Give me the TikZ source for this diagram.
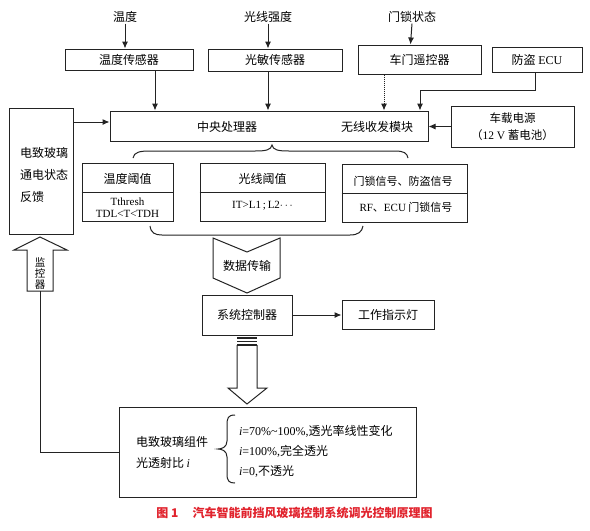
\documentclass[tikz,border=0pt]{standalone}
\usepackage{fontspec}
\setmainfont{Liberation Serif}
\newfontfamily\cjk{Noto Sans CJK SC}
\usetikzlibrary{arrows.meta,calc}
\newcommand\lat[1]{{\rmfamily #1}}
\definecolor{capred}{RGB}{225,35,45}
\definecolor{ln}{RGB}{35,35,35}
\begin{document}
\begin{tikzpicture}[x=1pt,y=-1pt,line width=1pt,
  box/.style={draw=ln,line width=1pt,inner sep=0pt,font=\cjk\fontsize{12}{14}\selectfont},
  lbl/.style={inner sep=0.5pt,font=\cjk\fontsize{12}{14}\selectfont},
  sml/.style={inner sep=0.5pt,font=\cjk\fontsize{11}{13}\selectfont},
  arr/.style={draw=ln,line width=1pt,-{Latex[length=7pt,width=6pt]}},
  ln/.style={draw=ln,line width=1pt}]
\useasboundingbox (0,0) rectangle (590,531);
\fill[white] (0,0) rectangle (590,531);
% inputs
\node[lbl] (tin) at (125,17) {温度};
\node[lbl] (lin) at (268,17) {光线强度};
\node[lbl] (din) at (412,17) {门锁状态};
% sensors
\node[box,minimum width=128,minimum height=21] (ts) at (129,59.5) {温度传感器};
\node[box,minimum width=134,minimum height=22] (ls) at (275,60) {光敏传感器};
\node[box,minimum width=123,minimum height=29] (dr) at (419.5,59.5) {车门遥控器};
\node[box,minimum width=90,minimum height=25] (ecu) at (537,59.5) {防盗 \lat{ECU}};
% central
\node[box,minimum width=318,minimum height=30] (cpu) at (269,126) {};
\node[lbl] (cpuA) at (227,127) {中央处理器};
\node[lbl] (cpuB) at (377,127) {无线收发模块};
\node[box,minimum width=123,minimum height=41,align=center,font=\cjk\fontsize{11.5}{17}\selectfont] (pwr) at (512.5,126.5) {车载电源\\（\lat{12 V} 蓄电池）};
% feedback
\node[box,minimum width=64,minimum height=126] (fb) at (41,171) {};
\node[lbl,anchor=west,align=left,font=\cjk\fontsize{12}{22}\selectfont] (fbt) at (19,175) {电致玻璃\\通电状态\\反馈};
% arrows top
\draw[arr] (tin.south) -- (tin.south |- ts.north);
\draw[arr] (lin.south) -- (lin.south |- ls.north);
\draw[arr] (din.south) -- ([xshift=-1.5pt]din.south |- dr.north);
\draw[arr] ([xshift=26pt]ts.south) -- ([xshift=26pt]ts.south |- cpu.north);
\draw[arr] ([xshift=-7pt]ls.south) -- ([xshift=-7pt]ls.south |- cpu.north);
\draw[arr,densely dotted] ([xshift=-35.5pt]dr.south) -- ([xshift=-35.5pt]dr.south |- cpu.north);
\draw[arr] ([xshift=-2pt]ecu.south) -- ++(0,18) -| ([xshift=151pt]cpu.north);
\draw[arr] (pwr.west) -- (pwr.west -| cpu.east);
\draw[arr] ([yshift=49pt]fb.east) -- ([yshift=49pt]fb.east -| cpu.west);
% top brace
\draw[ln] (133,158) .. controls (134,152) and (140,151) .. (150,151) -- (255,151)
  .. controls (266,151) and (271,150) .. (272,145)
  .. controls (273,150) and (278,151) .. (289,151) -- (395,151)
  .. controls (404,151) and (407,153) .. (408,158);
% threshold boxes
\node[box,minimum width=91,minimum height=58] (th1) at (127.5,192) {};
\draw[ln] (th1.west) -- (th1.east);
\node[lbl] (th1a) at (127.5,179) {温度阈值};
\node[inner sep=0pt,align=center,font=\rmfamily\fontsize{11}{12}\selectfont] (th1b) at (127.5,208) {Tthresh\\TDL\textless T\textless TDH};
\node[box,minimum width=125,minimum height=58] (th2) at (262.5,192) {};
\draw[ln] (th2.west) -- (th2.east);
\node[lbl] (th2a) at (262.5,179) {光线阈值};
\node[inner sep=0pt,font=\rmfamily\fontsize{11}{12}\selectfont] (th2b) at (262.5,206) {IT\textgreater L1\,;\,L2$\cdots$};
\node[box,minimum width=125,minimum height=58] (th3) at (404.5,193) {};
\draw[ln] (th3.west) -- (th3.east);
\node[sml] (th3a) at (403,181) {门锁信号、防盗信号};
\node[sml] (th3b) at (406,207) {\lat{RF}、\lat{ECU} 门锁信号};
% bottom bracket
\draw[ln] (150,226) .. controls (151,233) and (155,235) .. (162,235) -- (350,235)
  .. controls (358,235) and (362,232) .. (363,226);
% chevron
\draw[ln] (213,238) -- (247,252) -- (280,238) -- (280,278) -- (247,293) -- (213,278) -- cycle;
\node[lbl] (chev) at (247,266) {数据传输};
% system controller
\node[box,minimum width=90,minimum height=40] (sc) at (247,315) {系统控制器};
\node[box,minimum width=92,minimum height=29] (ind) at (388,315) {工作指示灯};
\draw[arr] (sc.east) -- (ind.west);
% down block arrow
\draw[ln] (237,345) -- (237,388) -- (228,388) -- (247,404) -- (267,388) -- (257,388) -- (257,345);
\foreach \yy in {338,341.5,345} \draw[ln,line width=1.4pt] (237,\yy) -- (257,\yy);
% glass box
\node[box,minimum width=297,minimum height=90] (glass) at (267.5,452) {};
\node[lbl,anchor=west,align=left,font=\cjk\fontsize{12}{21}\selectfont] (gl) at (135,452.5) {电致玻璃组件\\光透射比 \lat{\textit{i}}};
\draw[ln] (235,415) .. controls (228,415) and (227,418) .. (227,425) -- (227,441)
  .. controls (227,447) and (222,449) .. (218,449)
  .. controls (222,449) and (227,451) .. (227,457) -- (227,474)
  .. controls (227,481) and (229,483) .. (235,483);
\node[sml,anchor=west,align=left,font=\cjk\fontsize{12}{20}\selectfont] (gr) at (238,451) {\lat{\textit{i}=70\%\textasciitilde 100\%,}透光率线性变化\\\lat{\textit{i}=100\%,}完全透光\\\lat{\textit{i}=0,}不透光};
% monitor arrow
\draw[ln] (40,237) -- (67,250) -- (53,250) -- (53,291) -- (27,291) -- (27,250) -- (14,250) -- cycle;
\node[lbl,align=center,font=\cjk\fontsize{10.5}{11}\selectfont] (mon) at (40,274) {监\\控\\器};
\coordinate (mb) at (40,291);
\draw[ln] (mb) |- (glass.west);
% caption
\node[inner sep=0pt,text=capred,font=\cjk\bfseries\fontsize{12}{14}\selectfont] (cap) at (294.5,513) {图 1\hspace{1.2em}汽车智能前挡风玻璃控制系统调光控制原理图};
\end{tikzpicture}
\end{document}
